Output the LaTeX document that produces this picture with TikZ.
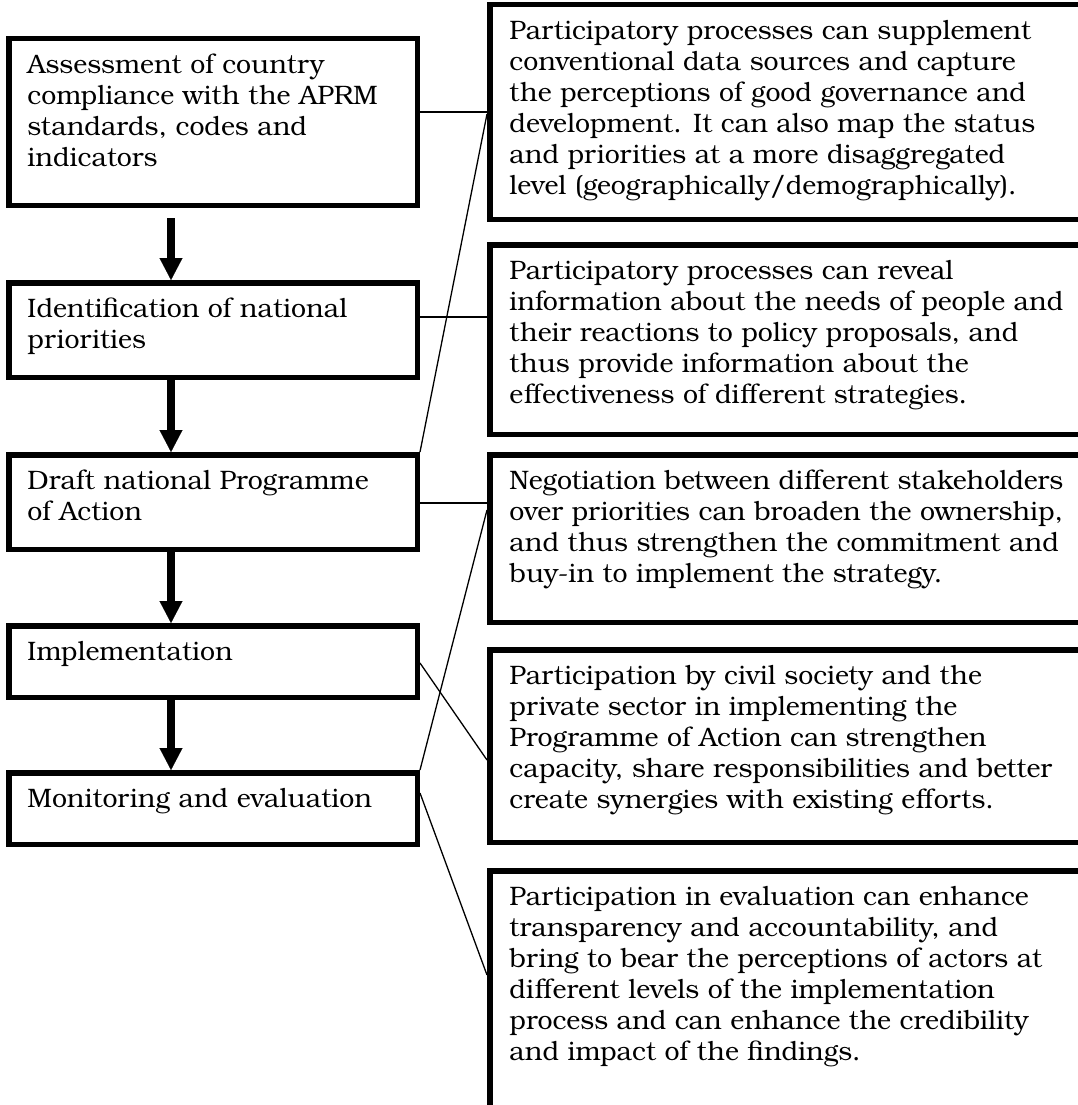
\documentclass[tikz,border=0pt]{standalone}
\usepackage{fontspec}
\setmainfont{texgyrebonum}[Extension=.otf, UprightFont=*-regular, BoldFont=*-bold, ItalicFont=*-italic, BoldItalicFont=*-bolditalic]
\usetikzlibrary{arrows.meta,calc}
\newcommand\mylines[1]{\begin{tabular}[t]{@{}l@{}}#1\end{tabular}}
\begin{document}
\begin{tikzpicture}[x=1pt,y=-1pt,
  box/.style={draw, line width=5.5pt, rectangle, inner sep=0pt},
  leftbox/.style={box, minimum width=408.5pt},
  rightbox/.style={box, minimum width=617.5pt},
  txt/.style={anchor=base west, inner sep=0pt, font=\fontsize{26.7}{31}\selectfont},
  link/.style={line width=1.3pt},
  bigarrow/.style={line width=8pt, -{Triangle[length=22pt, width=23pt, line width=0.1pt]}}
]
\useasboundingbox (0,0) rectangle (1078,1105);
\clip (0,0) rectangle (1078,1105);

% left column
\node[leftbox, minimum height=166.5pt] (b1) at (213,122) {};
\node[leftbox, minimum height=94.5pt] (b2) at (213,330) {};
\node[leftbox, minimum height=94.5pt] (b3) at (213,502) {};
\node[leftbox, minimum height=71.5pt] (b4) at (213,661.5) {};
\node[leftbox, minimum height=71.5pt] (b5) at (213,808.5) {};

% right column
\node[rightbox, minimum height=214.5pt] (r1) at (798.5,112) {};
\node[rightbox, minimum height=189.5pt] (r2) at (798.5,339.5) {};
\node[rightbox, minimum height=167.5pt] (r3) at (798.5,538.5) {};
\node[rightbox, minimum height=192.5pt] (r4) at (798.5,746) {};
\node[rightbox, minimum height=256.5pt] (r5) at (798.5,999) {};

% texts
\node[txt] (t1) at ($(b1.north west)+(21.25,37.25)$) {\mylines{Assessment of country\\compliance with the APRM\\standards, codes and\\indicators}};
\node[txt] (t2) at ($(b2.north west)+(21.25,37.25)$) {\mylines{Identification of national\\priorities}};
\node[txt] (t3) at ($(b3.north west)+(21.25,37.25)$) {\mylines{Draft national Programme\\of Action}};
\node[txt] (t4) at ($(b4.north west)+(21.25,37.25)$) {\mylines{Implementation}};
\node[txt] (t5) at ($(b5.north west)+(21.25,37.25)$) {\mylines{Monitoring and evaluation}};

\node[txt] (s1) at ($(r1.north west)+(22.25,37.25)$) {\mylines{Participatory processes can supplement\\conventional data sources and capture\\the perceptions of good governance and\\development. It can also map the status\\and priorities at a more disaggregated\\level (geographically/demographically).}};
\node[txt] (s2) at ($(r2.north west)+(22.25,37.25)$) {\mylines{Participatory processes can reveal\\information about the needs of people and\\their reactions to policy proposals, and\\thus provide information about the\\effectiveness of different strategies.}};
\node[txt] (s3) at ($(r3.north west)+(22.25,37.25)$) {\mylines{Negotiation between different stakeholders\\over priorities can broaden the ownership,\\and thus strengthen the commitment and\\buy-in to implement the strategy.}};
\node[txt] (s4) at ($(r4.north west)+(22.25,37.25)$) {\mylines{Participation by civil society and the\\private sector in implementing the\\Programme of Action can strengthen\\capacity, share responsibilities and better\\create synergies with existing efforts.}};
\node[txt] (s5) at ($(r5.north west)+(22.25,37.25)$) {\mylines{Participation in evaluation can enhance\\transparency and accountability, and\\bring to bear the perceptions of actors at\\different levels of the implementation\\process and can enhance the credibility\\and impact of the findings.}};

% helper coordinates
\coordinate (ax) at (171,0);
\coordinate (c1) at (0,112);
\coordinate (c2) at (0,317);
\coordinate (c3) at (0,503);
\coordinate (d1) at (0,114);
\coordinate (d2) at (0,510);
\coordinate (d3a) at (0,663);
\coordinate (d3b) at (0,760);
\coordinate (d4a) at (0,793);
\coordinate (d4b) at (0,975);

% connectors
\draw[link] (b1.east |- c1) -- (r1.west |- c1);
\draw[link] (b2.east |- c2) -- (r2.west |- c2);
\draw[link] (b3.east |- c3) -- (r3.west |- c3);
\draw[link] (r1.west |- d1) -- (b3.north east);
\draw[link] (r3.west |- d2) -- (b5.north east);
\draw[link] (b4.east |- d3a) -- (r4.west |- d3b);
\draw[link] (b5.east |- d4a) -- (r5.west |- d4b);

% flow arrows
\draw[bigarrow] ($(b1.south -| ax)+(0,10)$) -- (b2.north -| ax);
\draw[bigarrow] (b2.south -| ax) -- (b3.north -| ax);
\draw[bigarrow] (b3.south -| ax) -- (b4.north -| ax);
\draw[bigarrow] (b4.south -| ax) -- (b5.north -| ax);
\end{tikzpicture}
\end{document}
